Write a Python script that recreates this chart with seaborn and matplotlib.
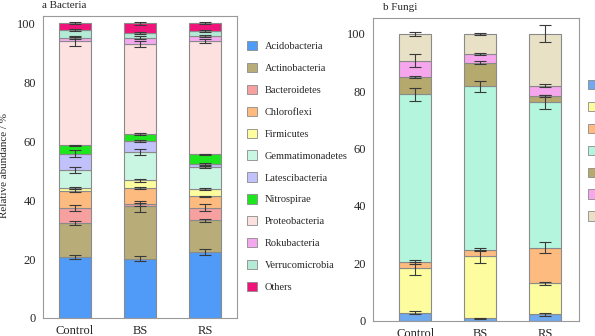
import numpy as np
import pandas as pd
import matplotlib
matplotlib.use("Agg")
import matplotlib.pyplot as plt
import seaborn as sns
from matplotlib.patches import Patch

sns.set_style("white")
plt.rcParams["font.family"] = ["Liberation Serif", "DejaVu Serif"]

groups = ["Control", "BS", "RS"]

bac_taxa = ["Acidobacteria", "Actinobacteria", "Bacteroidetes", "Chloroflexi",
            "Firmicutes", "Gemmatimonadetes", "Latescibacteria", "Nitrospirae",
            "Proteobacteria", "Rokubacteria", "Verrucomicrobia", "Others"]
bac_colors = ["#4f9bf7", "#b8ad78", "#f7a0a0", "#fdbb7f", "#fdfd9f", "#c9f5e3",
              "#c1c1fb", "#1ee61e", "#fde0e0", "#f4a9ee", "#b3ebd6", "#f0137a"]
bac_control = [20.7, 11.5, 5.2, 5.8, 1.0, 6.0, 5.5, 2.8, 35.4, 1.1, 2.7, 2.3]
bac_bs      = [20.1, 17.8, 0.6, 5.7, 2.5, 9.6, 3.7, 2.5, 30.5, 2.0, 1.7, 3.3]
bac_rs      = [22.4, 10.7, 4.3, 3.8, 2.6, 7.4, 1.1, 3.2, 38.4, 1.6, 1.8, 2.7]
bac_err_control = [0.6, 0.6, 1.0, 0.4, 0.3, 0.9, 1.2, 0.3, 1.8, 0.3, 0.3, 0.3]
bac_err_bs      = [0.9, 1.9, 0.4, 0.3, 0.5, 1.0, 0.3, 0.3, 1.0, 0.5, 0.3, 0.5]
bac_err_rs      = [1.0, 0.5, 1.1, 0.3, 0.3, 0.3, 0.3, 0.2, 0.6, 0.3, 0.2, 0.2]

fun_taxa = ["Chytridiomycota", "Basidiomycota", "Mortierellomycota", "Ascomycota",
            "Glomeromycota", "Rozellomycota", "Others"]
fun_colors = ["#6fa9ee", "#fdfd9f", "#fdbb7f", "#b4f5dd", "#b5a96e", "#f6a6ec", "#e8e1c6"]
fun_control = [2.8, 15.4, 2.3, 58.4, 6.0, 5.7, 9.4]
fun_bs      = [0.8, 21.7, 2.3, 56.9, 8.2, 3.0, 7.1]
fun_rs      = [2.2, 10.8, 12.5, 50.6, 2.1, 3.7, 18.1]
fun_err_control = [0.6, 2.1, 0.6, 2.3, 0.3, 2.2, 0.7]
fun_err_bs      = [0.2, 2.3, 0.4, 2.0, 0.5, 0.3, 0.3]
fun_err_rs      = [0.5, 0.5, 1.8, 2.4, 0.3, 0.5, 2.9]

EDGE = "#8a8a8a"
ERR = "#3a3a3a"


def stacked(ax, taxa, colors, cols, errs):
    vals = np.array(cols).T
    err = np.array(errs).T
    cum = np.zeros(len(groups))
    for i, t in enumerate(taxa):
        df = pd.DataFrame({"group": groups, "value": vals[i]})
        sns.barplot(data=df, x="group", y="value", bottom=cum, color=colors[i],
                    saturation=1, width=0.5, edgecolor=EDGE, linewidth=0.8,
                    errorbar=None, ax=ax)
        cum = cum + vals[i]
        ax.errorbar(np.arange(len(groups)), cum, yerr=err[i], fmt="none",
                    ecolor=ERR, elinewidth=0.8, capsize=4.3, capthick=0.8, zorder=5)


fig = plt.figure(figsize=(5.95, 3.36), dpi=100)
ax1 = fig.add_axes([43 / 595, 18 / 336, 194 / 595, 302 / 336])
ax2 = fig.add_axes([373 / 595, 15.3 / 336, 206 / 595, 302.7 / 336])

stacked(ax1, bac_taxa, bac_colors, [bac_control, bac_bs, bac_rs],
        [bac_err_control, bac_err_bs, bac_err_rs])
stacked(ax2, fun_taxa, fun_colors, [fun_control, fun_bs, fun_rs],
        [fun_err_control, fun_err_bs, fun_err_rs])

ax1.set_ylim(0, 102.4)
ax1.set_xlim(-0.49, 2.49)
ax2.set_ylim(0, 105.5)
ax2.set_xlim(-0.65, 2.52)

for ax in (ax1, ax2):
    ax.set_xlabel("")
    ax.set_ylabel("")
    ax.set_yticks([0, 20, 40, 60, 80, 100])
    ax.tick_params(axis="both", which="both", direction="out", length=3,
                   width=0.8, color="#777777", labelsize=9, pad=2)
    for s in ax.spines.values():
        s.set_color("#9a9a9a")
        s.set_linewidth(0.8)

fig.text(5 / 595, 1 - 165 / 336, "Relative abundance / %", rotation=90,
         ha="center", va="center", fontsize=8)
fig.text(42 / 595, 1 - 6 / 336, "a Bacteria", ha="left", va="center", fontsize=8)
fig.text(383 / 595, 1 - 7 / 336, "b Fungi", ha="left", va="center", fontsize=8)

h1 = [Patch(facecolor=c, edgecolor=EDGE, linewidth=0.6) for c in bac_colors]
fig.legend(h1, bac_taxa, loc="upper left", bbox_to_anchor=(247 / 595, 1 - 41 / 336),
           frameon=False, fontsize=7.5, handlelength=1.0, handleheight=1.0,
           handletextpad=0.7, labelspacing=1.12, borderpad=0, borderaxespad=0)
h2 = [Patch(facecolor=c, edgecolor=EDGE, linewidth=0.6) for c in fun_colors]
fig.legend(h2, fun_taxa, loc="upper left", bbox_to_anchor=(588 / 595, 1 - 80 / 336),
           frameon=False, fontsize=7.5, handlelength=1.0, handleheight=1.0,
           handletextpad=0.7, labelspacing=1.12, borderpad=0, borderaxespad=0)

fig.savefig("out.png", dpi=100)
